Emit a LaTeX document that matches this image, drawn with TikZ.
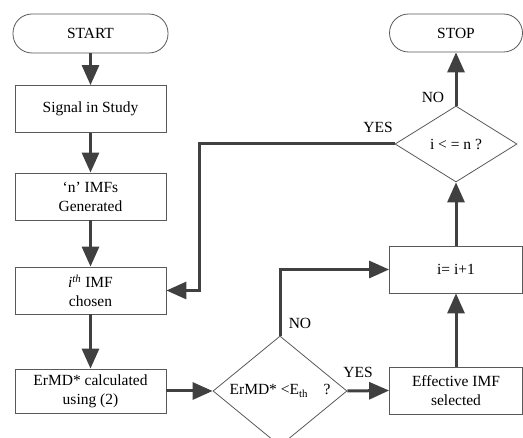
\documentclass[tikz,border=0pt]{standalone}
\usepackage{fontspec}
\setmainfont{Liberation Serif}
\usetikzlibrary{shapes.geometric, arrows.meta}

\begin{document}
\begin{tikzpicture}[x=1pt,y=-1pt]
% Définition des styles
\tikzset{
box/.style={draw=black!65, line width=0.8pt, rectangle, minimum width=151pt, minimum height=47pt, align=center, inner sep=0pt},
term/.style={box, rounded corners=19pt, minimum height=39pt},
decision/.style={draw=black!65, line width=0.8pt, diamond, inner sep=0pt, align=center},
flow/.style={draw=black!75, line width=3pt, -{Triangle[width=17pt,length=20pt]}},
every node/.style={font=\fontsize{15.5}{19}\selectfont}
}
\clip (0,0) rectangle (523,438);
% Colonne de gauche
\node[term, minimum width=155pt] (start) at (90.5,33.5) {START};
\node[box] (signal) at (90.5,109) {Signal in Study};
\node[box] (imfs) at (90.5,196.5) {‘n’ IMFs\\Generated};
\node[box] (chosen) at (90.5,290.5) {\textit{i}\textsuperscript{\textit{th}} IMF\\chosen};
\node[box, minimum height=44pt] (ermd) at (90.5,391) {ErMD* calculated\\using (2)};
% Test erreur
\node[decision, minimum width=134pt, minimum height=110pt, aspect=1.22] (test) at (280,391) {ErMD* <E\textsubscript{th}\quad ?};
% Colonne de droite
\node[box, minimum width=133pt] (effective) at (456,390.5) {Effective IMF\\selected};
\node[box, minimum width=133pt] (incr) at (456,269.5) {i= i+1};
\node[decision, minimum width=122pt, minimum height=76pt, aspect=1.6] (count) at (456,144) {i < = n ?};
\node[term, minimum width=133pt, minimum height=38pt] (stop) at (456,33) {STOP};
\coordinate (back) at (199,144);
% Flèches
\draw[flow] (start) -- (signal);
\draw[flow] (signal) -- (imfs);
\draw[flow] (imfs) -- (chosen);
\draw[flow] (chosen) -- (ermd);
\draw[flow] (ermd) -- (test);
\draw[flow] (test.east) -- (effective.west);
\draw[flow] (test.north) |- (incr.west);
\draw[flow] (effective) -- (incr);
\draw[flow] (incr) -- (count.south);
\draw[flow] (count.north) -- (stop);
\draw[flow] (count.west) -- (back) |- (chosen.east);
% Étiquettes
\node (yes1) at (358,372) {YES};
\node (no1) at (300,323) {NO};
\node (yes2) at (378,127) {YES};
\node (no2) at (433,97) {NO};
\end{tikzpicture}
\end{document}
